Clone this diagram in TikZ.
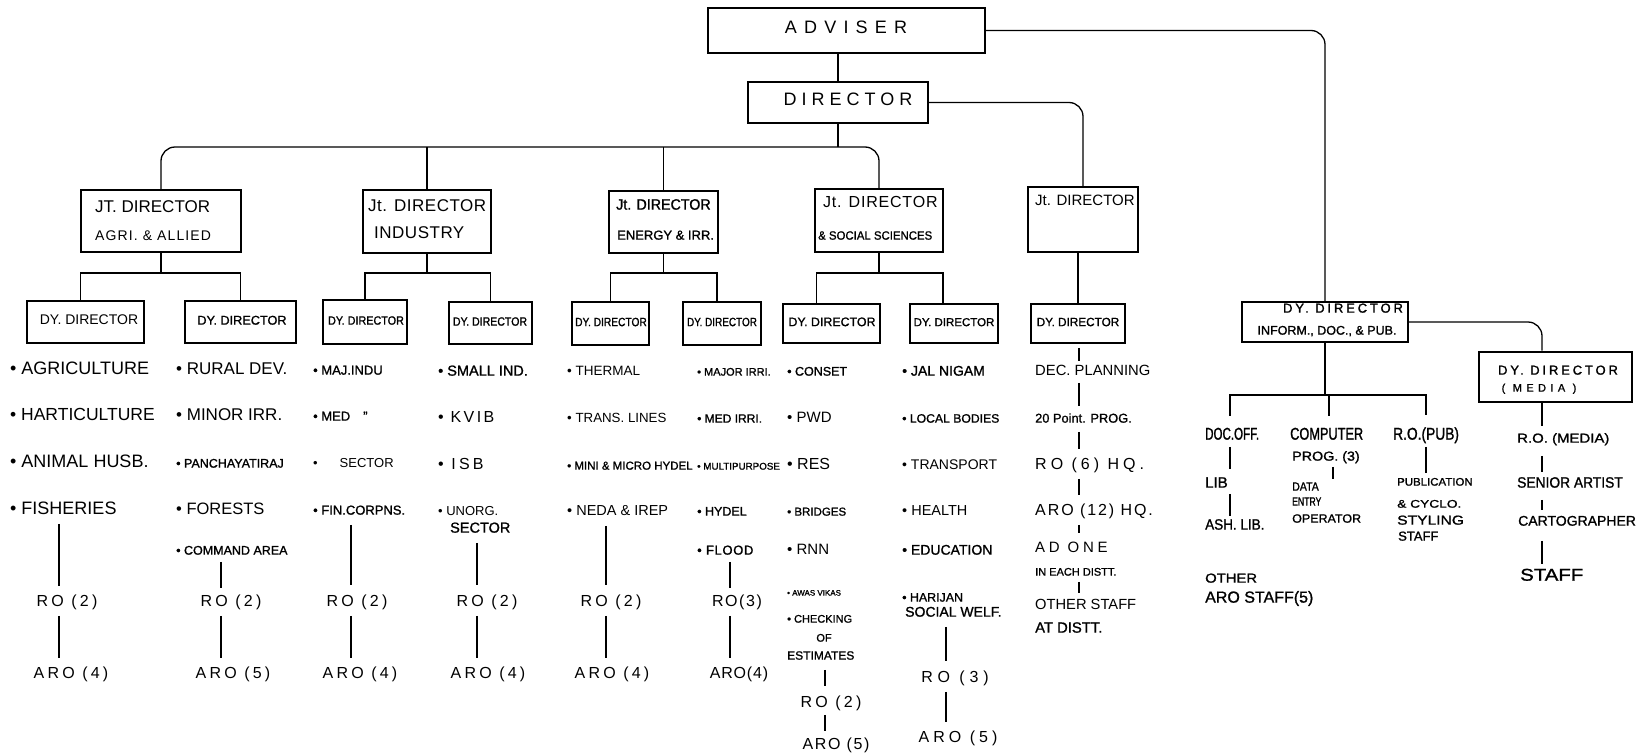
\documentclass[tikz,border=0pt]{standalone}
\usepackage{fontspec}
\setmainfont{Liberation Sans}
\usetikzlibrary{calc}
\newcommand\ff[3]{\fontsize{#1}{#1}\selectfont\addfontfeatures{FakeStretch=#2,LetterSpace=#3}}
\newcommand\fb[3]{\fontsize{#1}{#1}\selectfont\addfontfeatures{FakeStretch=#2,LetterSpace=#3,FakeBold=1.2}}
\newcommand\vlink[4]{\draw[conn] ($(#1.south -| #3)+(0,#4)$) -- ($(#2.north -| #3)+(0,-#4)$);}
\begin{document}
\begin{tikzpicture}[x=1pt,y=-1pt,
 box/.style={draw,line width=1.8pt,inner sep=0pt},
 conn/.style={line width=1.3pt},
 lbl/.style={inner sep=0pt,text depth=0pt,anchor=mid west},
 lblc/.style={inner sep=0pt,text depth=0pt,anchor=mid}]
\fill[white] (0,0) rectangle (1639,755);
\useasboundingbox (0,0) rectangle (1639,755);
% column coordinates
\coordinate (k1) at (59,0);
\coordinate (k2) at (221,0);
\coordinate (k3) at (351,0);
\coordinate (k4) at (477,0);
\coordinate (k5) at (606,0);
\coordinate (k6) at (730,0);
\coordinate (k7) at (825,0);
\coordinate (k8) at (946,0);
\coordinate (k9) at (1079,0);
\coordinate (kd) at (1230,0);
\coordinate (kc) at (1329,0);
\coordinate (kp) at (1426,0);
\coordinate (km) at (1542,0);
\coordinate (kq) at (1333,0);
% top boxes
\node[box,minimum width=277,minimum height=45] (adv) at (846.5,30.5) {};
\node[lblc] (advt) at (846,31) {\ff{18}{1}{40}ADVISER};
\node[box,minimum width=180,minimum height=41] (dir) at (838,102.5) {};
\node[lblc] (dirt) at (848,103) {\ff{18}{1}{28}DIRECTOR};
% joint directors
\node[box,minimum width=160,minimum height=62] (jt1) at (161,221) {};
\node[lbl] (jt1a) at (95,210) {\ff{17}{1}{0}JT. DIRECTOR};
\node[lbl] (jt1b) at (95,238) {\ff{14}{1}{8}AGRI. \& ALLIED};
\node[box,minimum width=128,minimum height=63] (jt2) at (427,221.5) {};
\node[lbl] (jt2a) at (368,209) {\ff{17}{1}{3}Jt. DIRECTOR};
\node[lbl] (jt2b) at (374,236) {\ff{17}{1}{3}INDUSTRY};
\node[box,minimum width=109,minimum height=62] (jt3) at (663.5,222) {};
\node[lbl] (jt3a) at (616,207) {\fb{15}{0.95}{0}Jt. DIRECTOR};
\node[lbl] (jt3b) at (617,237) {\fb{13}{1}{0}ENERGY \& IRR.};
\node[box,minimum width=128,minimum height=63] (jt4) at (879,220.5) {};
\node[lbl] (jt4a) at (823,205) {\ff{16}{1}{5}Jt. DIRECTOR};
\node[lbl] (jt4b) at (818,237) {\fb{12}{0.95}{0}\& SOCIAL SCIENCES};
\node[box,minimum width=110,minimum height=65] (jt5) at (1083,219.5) {};
\node[lbl] (jt5a) at (1035,203) {\ff{15}{1}{0}Jt. DIRECTOR};
% deputy directors
\node[box,minimum width=117,minimum height=42] (dy1) at (85.5,322) {};
\node[lblc] (dy1t) at (89,322) {\ff{14}{1}{0}DY. DIRECTOR};
\node[box,minimum width=111,minimum height=42] (dy2) at (240.5,322) {};
\node[lblc] (dy2t) at (242,322) {\fb{12.7}{1}{0}DY. DIRECTOR};
\node[box,minimum width=84,minimum height=44] (dy3) at (365,322) {};
\node[lblc] (dy3t) at (366,322) {\fb{12}{0.9}{0}DY. DIRECTOR};
\node[box,minimum width=83,minimum height=42] (dy4) at (490.5,323) {};
\node[lblc] (dy4t) at (490,323) {\fb{12}{0.88}{0}DY. DIRECTOR};
\node[box,minimum width=77,minimum height=43] (dy5) at (610.5,323.5) {};
\node[lblc] (dy5t) at (611,323.5) {\fb{12}{0.85}{0}DY. DIRECTOR};
\node[box,minimum width=78,minimum height=43] (dy6) at (722,323.5) {};
\node[lblc] (dy6t) at (722,323.5) {\fb{12}{0.83}{0}DY. DIRECTOR};
\node[box,minimum width=97,minimum height=39] (dy7) at (831.5,323.5) {};
\node[lblc] (dy7t) at (832,323.5) {\fb{12.4}{1}{0}DY. DIRECTOR};
\node[box,minimum width=88,minimum height=39] (dy8) at (954,323.5) {};
\node[lblc] (dy8t) at (954,323.5) {\fb{11.5}{1}{0}DY. DIRECTOR};
\node[box,minimum width=94,minimum height=39] (dy9) at (1078,323.5) {};
\node[lblc] (dy9t) at (1078,323.5) {\fb{12}{0.98}{0}DY. DIRECTOR};
\node[box,minimum width=166,minimum height=40] (dyi) at (1325,322) {};
\node[lblc] (dyia) at (1343,310) {\fb{13}{1}{22}DY. DIRECTOR};
\node[lblc] (dyib) at (1327,332) {\fb{12.5}{1}{0}INFORM., DOC., \& PUB.};
\node[box,line width=2.8pt,minimum width=153,minimum height=50] (dym) at (1555.5,377) {};
\node[lblc] (dyma) at (1558,372) {\fb{13}{1}{22}DY. DIRECTOR};
\node[lblc] (dymb) at (1539,389) {\fb{11}{1}{40}( MEDIA )};
% connectors top
\draw[conn] (dir.north |- adv.south) -- (dir.north);
\draw[conn,rounded corners=14] (adv.east) -| (dyi.north);
\coordinate (busA) at (838,147);
\draw[conn,rounded corners=14] (jt1.north) |- (busA) -| (jt4.north);
\draw[conn] (dir.south) -- (busA);
\draw[conn] (jt2.north |- busA) -- (jt2.north);
\draw[conn] (jt3.north |- busA) -- (jt3.north);
\draw[conn,rounded corners=14] (dir.east) -| (jt5.north);
\coordinate (b1) at (161,273);
\coordinate (b2) at (427,273);
\coordinate (b3) at (663.5,273);
\coordinate (b4) at (879,273);
\draw[conn] (jt1.south) -- (b1);
\draw[conn] ([xshift=-5pt]dy1.north) |- (b1) -| (dy2.north);
\draw[conn] (jt2.south) -- (b2);
\draw[conn] (dy3.north) |- (b2) -| (dy4.north);
\draw[conn] (jt3.south) -- (b3);
\draw[conn] (dy5.north) |- (b3) -| ([xshift=-5pt]dy6.north);
\draw[conn] (jt4.south) -- (b4);
\draw[conn] ([xshift=-15pt]dy7.north) |- (b4) -| ([xshift=-11pt]dy8.north);
\draw[conn] (dy9.north |- jt5.south) -- (dy9.north);
\draw[conn,rounded corners=14] (dyi.east) -| (dym.north -| km);
% column 1
\node[lbl] (a1) at (10,372) {\ff{18}{1}{0}• AGRICULTURE};
\node[lbl] (a2) at (10,418) {\ff{17.5}{1}{0}• HARTICULTURE};
\node[lbl] (a3) at (10,465) {\ff{18}{1}{0}• ANIMAL HUSB.};
\node[lbl] (a4) at (10,512) {\ff{18}{1}{0}• FISHERIES};
\node[lblc] (ro1) at (67,604) {\ff{16}{1}{20}RO (2)};
\node[lblc] (aro1) at (71,676) {\ff{16}{1}{20}ARO (4)};
\vlink{a4}{ro1}{k1}{9}
\vlink{ro1}{aro1}{k1}{9}
% column 2
\node[lbl] (b1i) at (176,372) {\ff{17}{1}{0}• RURAL DEV.};
\node[lbl] (b2i) at (176,418) {\ff{17}{1}{0}• MINOR IRR.};
\node[lbl] (b3i) at (176,465) {\fb{12.5}{1}{0}• PANCHAYATIRAJ};
\node[lbl] (b4i) at (176,512) {\ff{16.5}{1}{0}• FORESTS};
\node[lbl] (b5i) at (176,552) {\fb{12.5}{1}{0}• COMMAND AREA};
\node[lblc] (ro2) at (231,604) {\ff{16}{1}{20}RO (2)};
\node[lblc] (aro2) at (233,676) {\ff{16}{1}{20}ARO (5)};
\vlink{b5i}{ro2}{k2}{7}
\vlink{ro2}{aro2}{k2}{9}
% column 3
\node[lbl] (c1i) at (313,372) {\fb{13}{1}{0}• MAJ.INDU};
\node[lbl] (c2i) at (313,418) {\fb{13}{1}{0}• MED\quad ”};
\node[lbl] (c3i) at (313,465) {\ff{13}{1}{0}•\hspace{22pt}SECTOR};
\node[lbl] (c4i) at (313,512) {\fb{13}{1}{0}• FIN.CORPNS.};
\node[lblc] (ro3) at (357,604) {\ff{16}{1}{20}RO (2)};
\node[lblc] (aro3) at (360,676) {\ff{16}{1}{20}ARO (4)};
\vlink{c4i}{ro3}{k3}{10}
\vlink{ro3}{aro3}{k3}{9}
% column 4
\node[lbl] (d1i) at (438,373) {\fb{14.5}{1}{0}• SMALL IND.};
\node[lbl] (d2i) at (438,420) {\ff{16}{1}{15}• KVIB};
\node[lbl] (d3i) at (438,467) {\ff{16}{1}{20}• ISB};
\node[lbl] (d4i) at (438,513) {\ff{13}{1}{0}• UNORG.};
\node[lbl] (d5i) at (450,530) {\fb{14.5}{1}{0}SECTOR};
\node[lblc] (ro4) at (487,604) {\ff{16}{1}{20}RO (2)};
\node[lblc] (aro4) at (488,676) {\ff{16}{1}{20}ARO (4)};
\vlink{d5i}{ro4}{k4}{10}
\vlink{ro4}{aro4}{k4}{9}
% column 5
\node[lbl] (e1i) at (567,373) {\ff{13.5}{1}{0}• THERMAL};
\node[lbl] (e2i) at (567,420) {\ff{13.3}{1}{0}• TRANS. LINES};
\node[lbl] (e3i) at (567,467) {\fb{11.5}{1}{0}• MINI \& MICRO HYDEL};
\node[lbl] (e4i) at (567,513) {\ff{14.5}{1}{0}• NEDA \& IREP};
\node[lblc] (ro5) at (611,604) {\ff{16}{1}{20}RO (2)};
\node[lblc] (aro5) at (612,676) {\ff{16}{1}{20}ARO (4)};
\vlink{e4i}{ro5}{k5}{10}
\vlink{ro5}{aro5}{k5}{9}
% column 6
\node[lbl] (f1i) at (697,373) {\fb{11}{1}{0}• MAJOR IRRI.};
\node[lbl] (f2i) at (697,420) {\fb{12}{1}{0}• MED IRRI.};
\node[lbl] (f3i) at (697,467) {\fb{9.8}{1}{0}• MULTIPURPOSE};
\node[lbl] (f4i) at (697,513) {\fb{12.5}{1}{0}• HYDEL};
\node[lbl] (f5i) at (697,552) {\fb{13}{1}{5}• FLOOD};
\node[lblc] (ro6) at (737,604) {\ff{16}{1}{10}RO(3)};
\node[lblc] (aro6) at (739,676) {\ff{16}{1}{5}ARO(4)};
\vlink{f5i}{ro6}{k6}{7}
\vlink{ro6}{aro6}{k6}{9}
% column 7
\node[lbl] (g1i) at (787,373) {\fb{12.5}{1}{0}• CONSET};
\node[lbl] (g2i) at (787,420) {\ff{15}{1}{0}• PWD};
\node[lbl] (g3i) at (787,467) {\ff{16}{1}{0}• RES};
\node[lbl] (g4i) at (787,513) {\fb{11.5}{1}{0}• BRIDGES};
\node[lbl] (g5i) at (787,552) {\ff{15}{1}{0}• RNN};
\node[lbl] (g6i) at (787,593) {\fb{8}{1}{0}• AWAS VIKAS};
\node[lbl] (g7i) at (787,620) {\fb{11}{1}{0}• CHECKING};
\node[lblc] (g8i) at (824,639) {\fb{11}{1}{0}OF};
\node[lbl] (g9i) at (787,657) {\fb{12}{1}{0}ESTIMATES};
\node[lblc] (ro7) at (831,705) {\ff{16}{1}{20}RO (2)};
\node[lblc] (aro7) at (836,747) {\ff{16}{1}{10}ARO (5)};
\vlink{g9i}{ro7}{k7}{10}
\vlink{ro7}{aro7}{k7}{7}
% column 8
\node[lbl] (h1i) at (902,373) {\fb{14}{1}{0}• JAL NIGAM};
\node[lbl] (h2i) at (902,420) {\fb{12.2}{1}{0}• LOCAL BODIES};
\node[lbl] (h3i) at (902,467) {\ff{14}{1}{0}• TRANSPORT};
\node[lbl] (h4i) at (902,513) {\ff{14.5}{1}{0}• HEALTH};
\node[lbl] (h5i) at (902,552) {\fb{14}{1}{0}• EDUCATION};
\node[lbl] (h6i) at (902,599) {\fb{12.4}{1}{0}• HARIJAN};
\node[lbl] (h7i) at (905,614) {\fb{14}{1}{0}SOCIAL WELF.};
\node[lblc] (ro8) at (955,680) {\ff{16}{1}{30}RO (3)};
\node[lblc] (aro8) at (958,740) {\ff{16}{1}{25}ARO (5)};
\vlink{h7i}{ro8}{k8}{10}
\vlink{ro8}{aro8}{k8}{9}
% column 9
\node[lbl] (j1) at (1035,373) {\ff{14.8}{1}{0}DEC. PLANNING};
\node[lbl] (j2) at (1035,420) {\fb{12.8}{1}{0}20 Point. PROG.};
\node[lbl] (j3) at (1035,467) {\ff{16}{1}{25}RO (6) HQ.};
\node[lbl] (j4) at (1035,513) {\ff{16}{1}{12}ARO (12) HQ.};
\node[lbl] (j5) at (1035,550) {\ff{15}{1}{25}AD ONE};
\node[lbl] (j6) at (1035,573) {\fb{11}{1}{0}IN EACH DISTT.};
\node[lbl] (j7) at (1035,607) {\ff{14.7}{1}{0}OTHER STAFF};
\node[lbl] (j8) at (1035,630) {\fb{14.8}{1}{0}AT DISTT.};
\vlink{dy9}{j1}{k9}{4}
\vlink{j1}{j2}{k9}{7}
\vlink{j2}{j3}{k9}{9}
\vlink{j3}{j4}{k9}{9}
\vlink{j4}{j5}{k9}{9}
\vlink{j6}{j7}{k9}{6}
% information division
\coordinate (bi) at (1325,395);
\node[lbl] (doc) at (1205,437) {\fb{17}{0.68}{0}DOC.OFF.};
\node[lbl] (lib) at (1205,485) {\fb{15}{1}{0}LIB};
\node[lbl] (alib) at (1205,527) {\fb{15}{0.9}{0}ASH. LIB.};
\node[lbl] (comp) at (1290,437) {\fb{17}{0.75}{0}COMPUTER};
\node[lbl] (prog) at (1292,458) {\fb{13}{1.1}{0}PROG. (3)};
\node[lbl] (data) at (1292,488) {\fb{12}{0.88}{0}DATA};
\node[lbl] (entry) at (1292,503) {\fb{12}{0.72}{0}ENTRY};
\node[lbl] (oper) at (1292,520) {\fb{12}{1.04}{0}OPERATOR};
\node[lbl] (rop) at (1393,437) {\fb{17}{0.81}{0}R.O.(PUB)};
\node[lbl] (pub1) at (1397,483) {\fb{11}{1.04}{0}PUBLICATION};
\node[lbl] (pub2) at (1397,505) {\fb{11}{1.25}{0}\& CYCLO.};
\node[lbl] (pub3) at (1397,522) {\fb{13}{1.2}{0}STYLING};
\node[lbl] (pub4) at (1398,538) {\fb{13}{1}{0}STAFF};
\node[lbl] (oth1) at (1205,580) {\fb{13}{1.14}{0}OTHER};
\node[lbl] (oth2) at (1205,600) {\fb{16}{1}{0}ARO STAFF(5)};
\draw[conn] (dyi.south) -- (bi);
\draw[conn] ($(doc.north -| kd)+(0,-12)$) |- (bi) -| ($(rop.north -| kp)+(0,-12)$);
\draw[conn] (bi -| kc) -- ($(comp.north -| kc)+(0,-12)$);
\draw[conn] ($(doc.south -| kd)+(0,7)$) -- ($(lib.north -| kd)+(0,-8)$);
\draw[conn] ($(lib.south -| kd)+(0,6)$) -- ($(alib.north -| kd)+(0,-3)$);
\draw[conn] ($(prog.south -| kq)+(0,6)$) -- ($(data.north -| kq)+(0,-3)$);
\draw[conn] ($(rop.south -| kp)+(0,7)$) -- ($(pub1.north -| kp)+(0,-5)$);
% media division
\node[lbl] (rom) at (1517,440) {\fb{13}{1.15}{0}R.O. (MEDIA)};
\node[lbl] (sen) at (1517,485) {\fb{15}{0.92}{0}SENIOR ARTIST};
\node[lbl] (cart) at (1518,523) {\fb{14}{1}{0}CARTOGRAPHER};
\node[lbl] (stf) at (1520,578) {\fb{17}{1.2}{0}STAFF};
\draw[conn] (dym.south -| km) -- ($(rom.north -| km)+(0,-7)$);
\draw[conn] ($(rom.south -| km)+(0,13)$) -- ($(sen.north -| km)+(0,-5)$);
\draw[conn] ($(sen.south -| km)+(0,12)$) -- ($(cart.north -| km)+(0,-6)$);
\draw[conn] ($(cart.south -| km)+(0,15)$) -- ($(stf.north -| km)+(0,-5)$);
\end{tikzpicture}
\end{document}
